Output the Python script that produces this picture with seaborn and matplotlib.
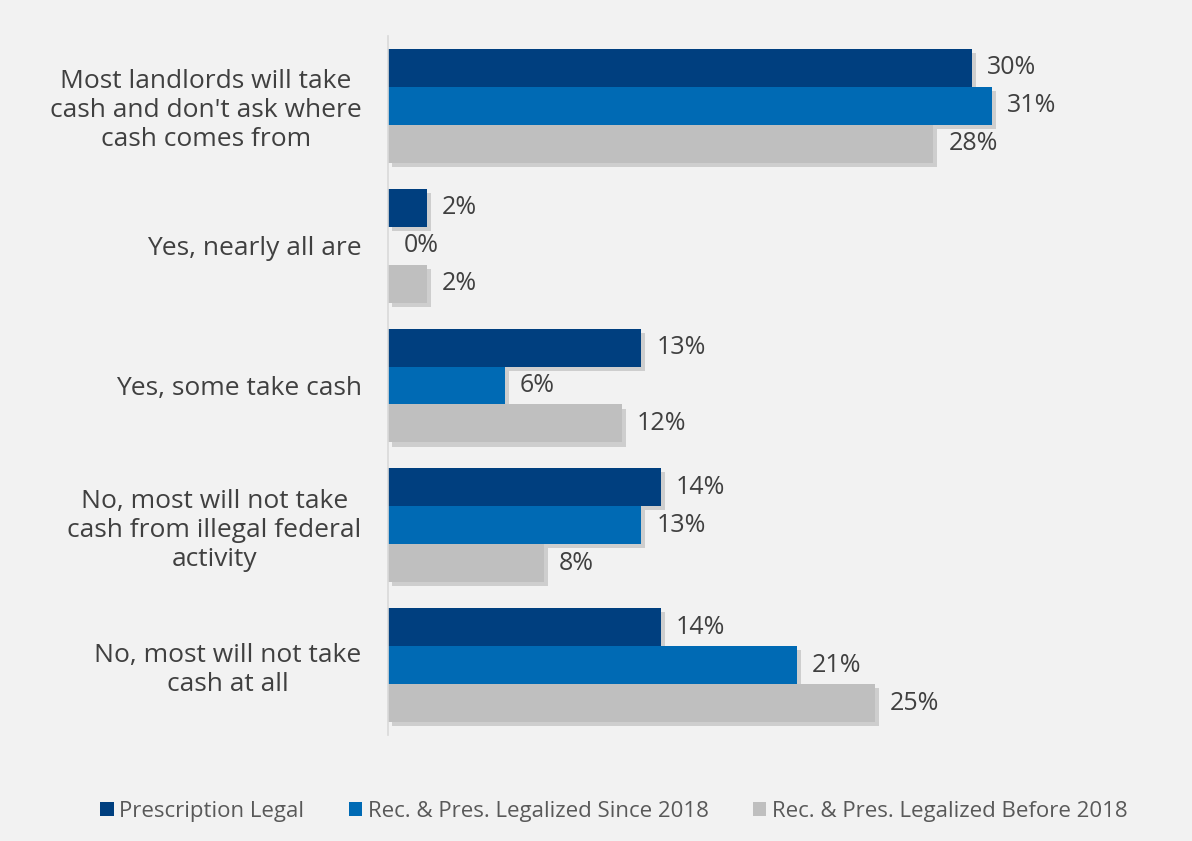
import pandas as pd
import seaborn as sns
import matplotlib.pyplot as plt
import matplotlib.patheffects as pe
from matplotlib.patches import Patch

# answers (top to bottom) and the three state groups
answers = [
    "Most landlords will take\ncash and don't ask where\ncash comes from",
    "Yes, nearly all are",
    "Yes, some take cash",
    "No, most will not take\ncash from illegal federal\nactivity",
    "No, most will not take\ncash at all",
]
groups = [
    "Prescription Legal",
    "Rec. & Pres. Legalized Since 2018",
    "Rec. & Pres. Legalized Before 2018",
]
prescription_legal = [30, 2, 13, 14, 14]
since_2018 = [31, 0, 6, 13, 21]
before_2018 = [28, 2, 12, 8, 25]

palette = {
    groups[0]: '#003f7f',
    groups[1]: '#006ab4',
    groups[2]: '#bfbfbf',
}

rows = []
for g, vals in zip(groups, [prescription_legal, since_2018, before_2018]):
    for a, v in zip(answers, vals):
        rows.append({'Answer': a, 'Group': g, 'Pct': v})
df = pd.DataFrame(rows)

bg = '#f2f2f2'
sns.set_style('white')
plt.rcParams['font.family'] = ['Open Sans', 'DejaVu Sans']

fig = plt.figure(figsize=(11.92, 8.41), dpi=100, facecolor=bg)
ax = fig.add_axes([388 / 1192, 1 - 735 / 841, (1168 - 388) / 1192, (735 - 36) / 841])
ax.set_facecolor(bg)

sns.barplot(data=df, y='Answer', x='Pct', hue='Group', order=answers, hue_order=groups,
            palette=palette, orient='h', width=0.815, saturation=1, errorbar=None,
            legend=False, linewidth=0, ax=ax)

# soft drop shadow like the original
for p in ax.patches:
    p.set_linewidth(0)
    p.set_path_effects([pe.SimplePatchShadow(offset=(3, -3), shadow_rgbFace='#8c8c8c', alpha=0.35),
                        pe.Normal()])

for cont in ax.containers:
    ax.bar_label(cont, labels=[f'{v:.0f}%' for v in cont.datavalues], padding=11,
                 fontsize=18, color='#404040')

ax.set_xlim(0, (1168 - 388) / 19.47)
ax.set_xlabel('')
ax.set_ylabel('')
ax.set_xticks([])
ax.tick_params(axis='y', length=0, pad=19)
plt.setp(ax.get_yticklabels(), fontsize=19, color='#404040', ha='right',
         multialignment='center', linespacing=1.2)
for side in ['top', 'right', 'bottom']:
    ax.spines[side].set_visible(False)
ax.spines['left'].set_color('#d9d9d9')
ax.spines['left'].set_linewidth(1.2)

handles = [Patch(facecolor=palette[g], edgecolor='none') for g in groups]
fig.legend(handles, groups, loc='center', bbox_to_anchor=(0.515, 1 - 811 / 841), ncol=3,
           frameon=False, fontsize=16, handlelength=0.6, handleheight=0.6, handletextpad=0.25,
           columnspacing=2.0, labelcolor='#595959')

fig.savefig('out.png', dpi=100, facecolor=bg)
